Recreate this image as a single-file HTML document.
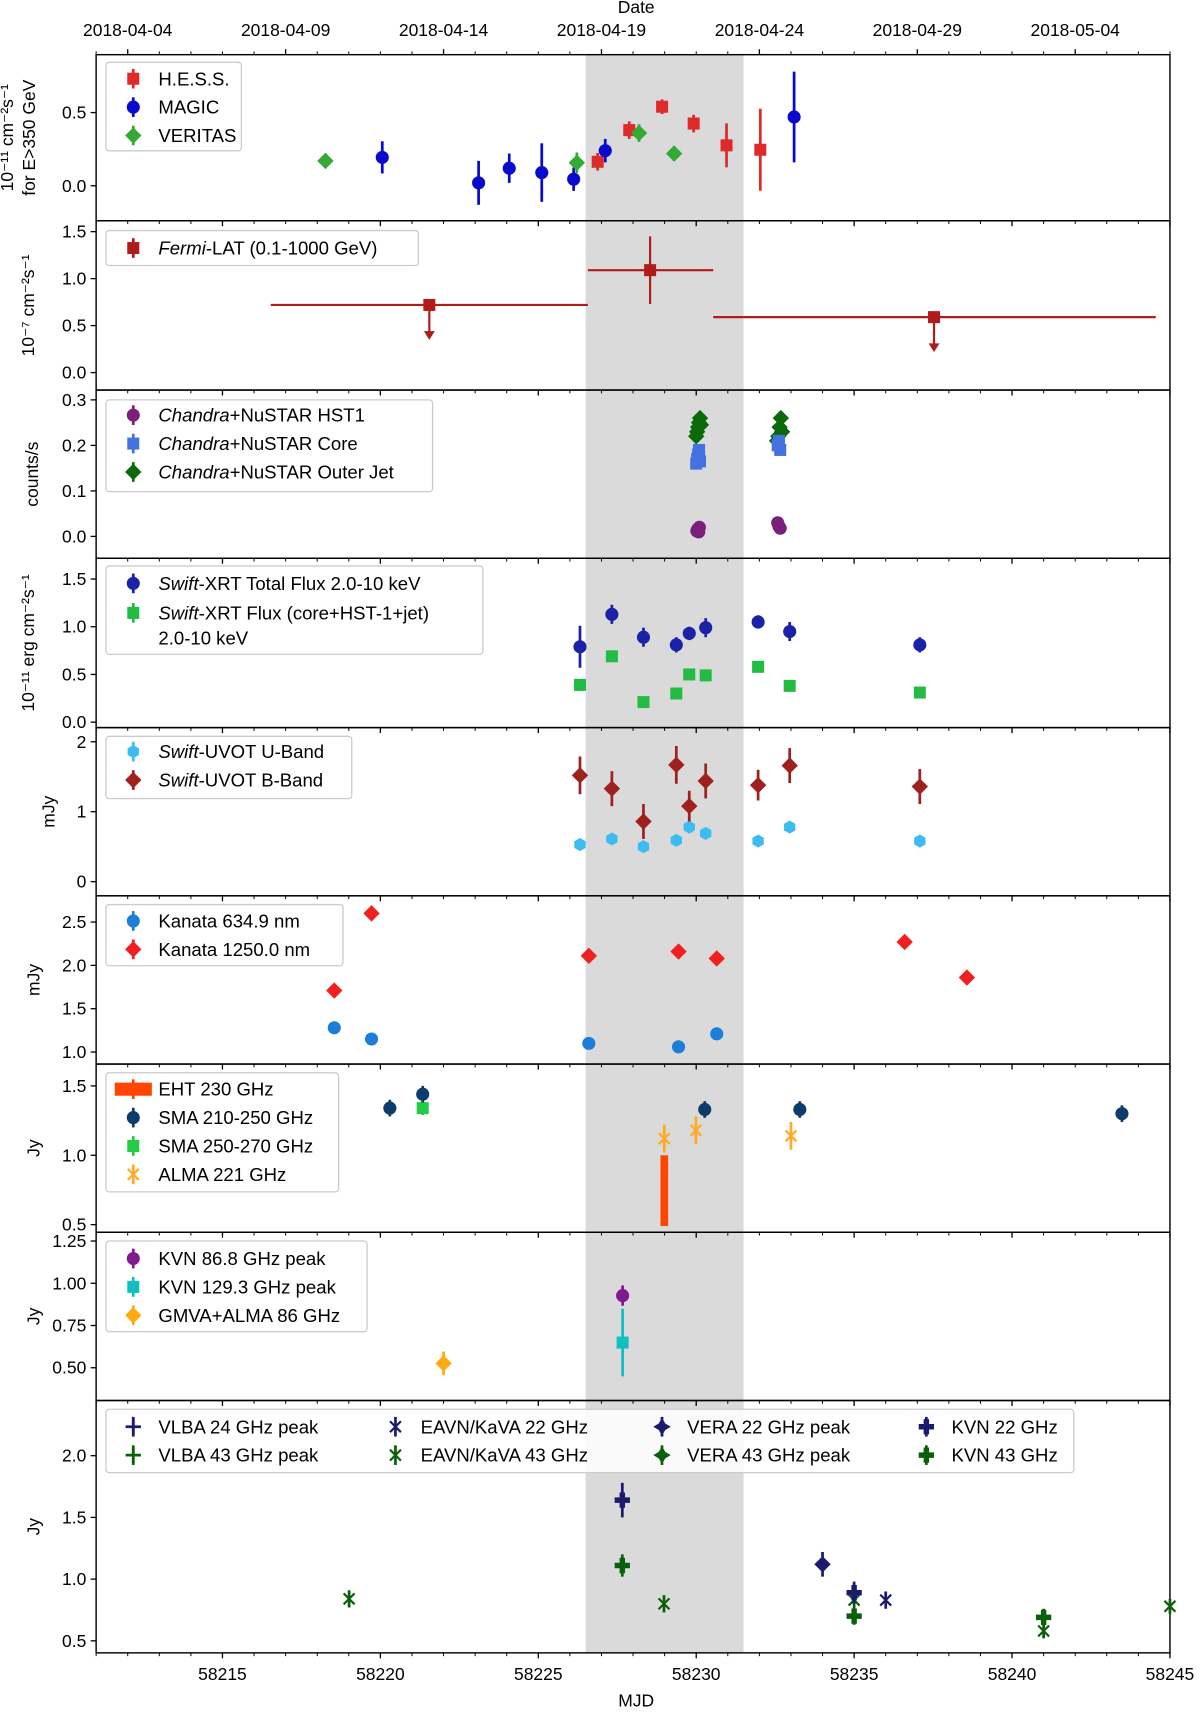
<!DOCTYPE html>
<html><head><meta charset="utf-8"><title>Multi-wavelength light curves</title>
<style>
html,body{margin:0;padding:0;background:#fff;}
svg{display:block;font-family:"Liberation Sans","DejaVu Sans",sans-serif;}
</style></head>
<body>
<svg id="fig" xmlns="http://www.w3.org/2000/svg" width="1200" height="1713" viewBox="0 0 1098.5 1568"></svg>
<script>
// ---------- data ----------
const hessX=[58226.88,58227.88,58228.92,58229.92,58230.96,58232.03];
const hessY=[0.164,0.38,0.54,0.425,0.276,0.246];
const hessE=[0.06,0.06,0.05,0.06,0.15,0.28];
const magicX=[58220.06,58223.11,58224.08,58225.11,58226.12,58227.12,58233.1];
const magicY=[0.194,0.02,0.12,0.09,0.045,0.24,0.47];
const magicE=[0.11,0.15,0.1,0.2,0.08,0.08,0.31];
const veritasX=[58218.26,58226.22,58228.19,58229.3];
const veritasY=[0.17,0.157,0.36,0.22];
const veritasE=[0.05,0.07,0.06,0.05];
const fermiX=[58221.55,58228.54,58237.53];
const fermiY=[0.72,1.09,0.59];
const fermiE=[0,0.36,0];
const fermiXlo=[58216.53,58226.57,58230.54];
const fermiXhi=[58226.57,58230.54,58244.55];
const fermiUL=[true,false,true];
const hst1X=[58230.02,58230.05,58230.08,58230.1,58232.58,58232.62,58232.66];
const hst1Y=[0.012,0.016,0.01,0.02,0.03,0.022,0.018];
const coreX=[58230.0,58230.03,58230.06,58230.09,58230.12,58232.58,58232.62,58232.66];
const coreY=[0.16,0.17,0.18,0.19,0.165,0.2,0.21,0.19];
const jetX=[58230.0,58230.03,58230.06,58230.09,58230.12,58230.15,58232.56,58232.6,58232.64,58232.68,58232.72];
const jetY=[0.22,0.23,0.24,0.25,0.26,0.245,0.21,0.22,0.24,0.26,0.23];
const swiftX=[58226.32,58227.33,58228.33,58229.37,58229.78,58230.3,58231.96,58232.96,58237.08];
const xrtTot=[0.79,1.13,0.89,0.81,0.93,0.99,1.05,0.95,0.81];
const xrtTotE=[0.22,0.1,0.1,0.08,0.07,0.1,0.07,0.1,0.08];
const xrtCore=[0.39,0.69,0.21,0.30,0.50,0.49,0.58,0.38,0.31];
const xrtCoreE=[0.06,0.04,0.04,0.04,0.04,0.04,0.04,0.04,0.04];
const uvotU=[0.53,0.61,0.5,0.59,0.78,0.69,0.58,0.78,0.58];
const uvotUE=[0.06,0.06,0.06,0.06,0.06,0.06,0.06,0.06,0.06];
const uvotB=[1.52,1.33,0.86,1.67,1.08,1.44,1.38,1.66,1.36];
const uvotBE=[0.27,0.25,0.25,0.27,0.22,0.25,0.22,0.25,0.25];
const kanataX=[58218.54,58219.72,58226.6,58229.44,58230.65];
const kanataR=[1.28,1.15,1.10,1.06,1.21];
const kanataIRX=[58218.54,58219.72,58226.6,58229.44,58230.65,58236.6,58238.57];
const kanataIR=[1.71,2.60,2.11,2.16,2.08,2.27,1.86];
const ehtX=[58228.99];
const ehtLo=[0.49];
const ehtHi=[1.0];
const sma1X=[58220.3,58221.34,58230.27,58233.28,58243.48];
const sma1Y=[1.34,1.44,1.33,1.33,1.30];
const sma1E=[0.06,0.06,0.06,0.06,0.06];
const sma2X=[58221.34];
const sma2Y=[1.34];
const sma2E=[0.05];
const almaX=[58228.99,58229.99,58233.0];
const almaY=[1.12,1.18,1.14];
const almaE=[0.1,0.1,0.1];
const kvn86X=[58227.67];const kvn86Y=[0.927];const kvn86E=[0.06];
const kvn129X=[58227.67];const kvn129Y=[0.649];const kvn129E=[0.2];
const gmvaX=[58222.0];const gmvaY=[0.526];const gmvaE=[0.07];
const vlba24X=[58227.66];const vlba24Y=[1.64];const vlba24E=[0.14];
const vlba43X=[58227.66];const vlba43Y=[1.11];const vlba43E=[0.09];
const eavn22X=[58236.0];const eavn22Y=[0.83];const eavn22E=[0.07];
const eavn43X=[58219.01,58228.98,58235.0,58241.0,58245.0];
const eavn43Y=[0.84,0.80,0.83,0.58,0.78];
const eavn43E=[0.07,0.07,0.07,0.06,0.06];
const vera22X=[58234.0];const vera22Y=[1.12];const vera22E=[0.1];
const kvn22X=[58235.0];const kvn22Y=[0.89];const kvn22E=[0.09];
const kvn43X=[58235.0,58241.0];const kvn43Y=[0.70,0.69];const kvn43E=[0.07,0.07];
const xTickVals=[58215,58220,58225,58230,58235,58240,58245];
const dateTickVals=[58212,58217,58222,58227,58232,58237,58242];
const dateTickLabels=['2018-04-04','2018-04-09','2018-04-14','2018-04-19','2018-04-24','2018-04-29','2018-05-04'];
const shadeRange=[58226.5,58231.5];

// ---------- layout ----------
const NS='http://www.w3.org/2000/svg';
const svg=document.getElementById('fig');
const L=88,R=1071,X0=58211,X1=58245;
function X(m){return L+(m-X0)*(R-L)/(X1-X0);}
const panels=[
 {top:50,bot:202,v0:0,p0:170,v1:0.5,p1:103,ticks:[0,0.5],fmt:1,lab:['10⁻¹¹ cm⁻²s⁻¹','for E>350 GeV'],lx:[12,32]},
 {top:202,bot:357,v0:0,p0:341,v1:1.5,p1:212,ticks:[0,0.5,1,1.5],fmt:1,lab:['10⁻⁷ cm⁻²s⁻¹'],lx:[31]},
 {top:357,bot:511,v0:0,p0:491,v1:0.3,p1:366,ticks:[0,0.1,0.2,0.3],fmt:1,lab:['counts/s'],lx:[35]},
 {top:511,bot:666,v0:0,p0:661,v1:1.5,p1:530,ticks:[0,0.5,1,1.5],fmt:1,lab:['10⁻¹¹ erg cm⁻²s⁻¹'],lx:[31]},
 {top:666,bot:820,v0:0,p0:807,v1:2,p1:679,ticks:[0,1,2],fmt:0,lab:['mJy'],lx:[50]},
 {top:820,bot:974,v0:1,p0:963,v1:2.5,p1:844,ticks:[1,1.5,2,2.5],fmt:1,lab:['mJy'],lx:[36]},
 {top:974,bot:1128,v0:0.5,p0:1121,v1:1.5,p1:994,ticks:[0.5,1,1.5],fmt:1,lab:['Jy'],lx:[36]},
 {top:1128,bot:1282,v0:0.5,p0:1252,v1:1.25,p1:1136,ticks:[0.5,0.75,1,1.25],fmt:2,lab:['Jy'],lx:[36]},
 {top:1282,bot:1513,v0:0.5,p0:1502,v1:1.0,p1:1445.5,ticks:[0.5,1,1.5,2],fmt:1,lab:['Jy'],lx:[36]}
];
function Y(p,v){return p.p0+(v-p.v0)*(p.p1-p.p0)/(p.v1-p.v0);}
function el(tag,attrs,parent){const e=document.createElementNS(NS,tag);for(const k in attrs)e.setAttribute(k,attrs[k]);(parent||svg).appendChild(e);return e;}

function marker(g,type,cx,cy,color){
 let e;
 if(type==='o'){e=el('circle',{cx:cx,cy:cy,r:6,fill:color},g);}
 else if(type==='h'){e=el('polygon',{points:[0,1,2,3,4,5].map(i=>{const a=Math.PI/3*i+Math.PI/6;return (cx+6*Math.cos(a))+','+(cy+6*Math.sin(a));}).join(' '),fill:color},g);}
 else if(type==='s'){e=el('rect',{x:cx-5.5,y:cy-5.5,width:11,height:11,fill:color},g);}
 else if(type==='D'){e=el('polygon',{points:`${cx},${cy-7.5} ${cx+7.5},${cy} ${cx},${cy+7.5} ${cx-7.5},${cy}`,fill:color},g);}
 else if(type==='d'){e=el('polygon',{points:`${cx},${cy-8} ${cx+3},${cy-3} ${cx+8},${cy} ${cx+3},${cy+3} ${cx},${cy+8} ${cx-3},${cy+3} ${cx-8},${cy} ${cx-3},${cy-3}`,fill:color},g);}
 else if(type==='P'){e=el('path',{d:`M${cx-2.5},${cy-7}h5v4.5h4.5v5h-4.5v4.5h-5v-4.5h-4.5v-5h4.5z`,fill:color},g);}
 else if(type==='+'){e=el('path',{d:`M${cx-7},${cy}H${cx+7}M${cx},${cy-7}V${cy+7}`,stroke:color,'stroke-width':2.5,fill:'none'},g);}
 else if(type==='x'){e=el('path',{d:`M${cx-5},${cy-5}L${cx+5},${cy+5}M${cx+5},${cy-5}L${cx-5},${cy+5}`,stroke:color,'stroke-width':2,fill:'none'},g);}
 return e;
}
function series(pi,name,xs,ys,es,type,color){
 const p=panels[pi];
 const g=el('g',{});
 
 
 xs.forEach((m,i)=>{
  const cx=X(m),cy=Y(p,ys[i]);
  if(es&&es[i]>0){
   const ln=el('line',{x1:cx,x2:cx,y1:Y(p,ys[i]-es[i]),y2:Y(p,ys[i]+es[i]),stroke:color,'stroke-width':2.5},g);
   
   
  }
  const mk=marker(g,type,cx,cy,color);
  
  
 });
}

// shading
panels.forEach((p,i)=>{
 const r=el('rect',{x:X(shadeRange[0]),y:p.top,width:X(shadeRange[1])-X(shadeRange[0]),height:p.bot-p.top,fill:'#dadada'});
 
 
});

// axes frames, ticks, labels
panels.forEach((p,i)=>{
 const g=el('g',{});
 
 
 for(let m=X0;m<=X1;m++){
  const x=X(m),maj=(m%5===0);
  el('line',{x1:x,x2:x,y1:p.bot,y2:p.bot+(maj?5:3),stroke:'#000','stroke-width':maj?1.2:0.9},g);
 }
 p.ticks.forEach(v=>{
  const y=Y(p,v);
  el('line',{x1:L-5,x2:L,y1:y,y2:y,stroke:'#000','stroke-width':1.2},g);
  const t=el('text',{x:L-9,y:y+5.5,'text-anchor':'end','font-size':16},g);
  t.textContent=v.toFixed(p.fmt);
  
  
 });
 const fr=el('rect',{x:L,y:p.top,width:R-L,height:p.bot-p.top,fill:'none',stroke:'#000','stroke-width':1.3},g);
 
 
 const cy=(p.top+p.bot)/2;
 p.lab.forEach((s,k)=>{
  const xx=p.lx[k];
  const t=el('text',{x:xx,y:cy,'text-anchor':'middle','font-size':16,transform:`rotate(-90 ${xx} ${cy})`},g);
  t.textContent=s;
  
  
 });
});
// bottom x labels
xTickVals.forEach(v=>{
 const t=el('text',{x:X(v),y:1538,'text-anchor':'middle','font-size':16});
 t.textContent=String(v);
 
 
});
{const t=el('text',{x:X(58228.1),y:1562,'text-anchor':'middle','font-size':16});t.textContent='MJD';

}
// top date axis
for(let m=X0;m<=X1;m++){
 const maj=((m-58212)%5===0);
 el('line',{x1:X(m),x2:X(m),y1:50,y2:50-(maj?5:3),stroke:'#000','stroke-width':maj?1.2:0.9});
}
dateTickVals.forEach((v,i)=>{
 const t=el('text',{x:X(v),y:33,'text-anchor':'middle','font-size':16});
 t.textContent=dateTickLabels[i];
 
 
});
{const t=el('text',{x:X(58228.1),y:12,'text-anchor':'middle','font-size':16});t.textContent='Date';

}

// ---------- series ----------
series(0,'hess',hessX,hessY,hessE,'s','#e02a2a');
series(0,'magic',magicX,magicY,magicE,'o','#0a0acc');
series(0,'veritas',veritasX,veritasY,veritasE,'D','#33aa33');
// fermi
{const p=panels[1];const g=el('g',{});


const c='#b01c1c';
fermiX.forEach((m,i)=>{
 const cx=X(m),cy=Y(p,fermiY[i]);
 el('line',{x1:X(fermiXlo[i]),x2:X(fermiXhi[i]),y1:cy,y2:cy,stroke:c,'stroke-width':2},g);
 if(fermiE[i]>0)el('line',{x1:cx,x2:cx,y1:Y(p,fermiY[i]-fermiE[i]),y2:Y(p,fermiY[i]+fermiE[i]),stroke:c,'stroke-width':2},g);
 if(fermiUL[i]){
  el('line',{x1:cx,x2:cx,y1:cy,y2:cy+30,stroke:c,'stroke-width':2},g);
  el('polygon',{points:`${cx-5},${cy+24} ${cx+5},${cy+24} ${cx},${cy+32}`,fill:c},g);
 }
 const mk=marker(g,'s',cx,cy,c);
 
 
});}
series(2,'chandra-outer-jet',jetX,jetY,null,'D','#0a6a0a');
series(2,'chandra-core',coreX,coreY,null,'s','#4472e0');
series(2,'chandra-hst1',hst1X,hst1Y,null,'o','#7a1f7a');
series(3,'xrt-total',swiftX,xrtTot,xrtTotE,'o','#1a22a8');
series(3,'xrt-core-hst1-jet',swiftX,xrtCore,xrtCoreE,'s','#22bb44');
series(4,'uvot-u',swiftX,uvotU,uvotUE,'h','#3cbcf0');
series(4,'uvot-b',swiftX,uvotB,uvotBE,'D','#a02020');
series(5,'kanata-634nm',kanataX,kanataR,null,'o','#1c7ed6');
series(5,'kanata-1250nm',kanataIRX,kanataIR,null,'D','#f02020');
// EHT bar
{const p=panels[6];ehtX.forEach((m,i)=>{
 const r=el('rect',{x:X(m)-3.5,y:Y(p,ehtHi[i]),width:7,height:Y(p,ehtLo[i])-Y(p,ehtHi[i]),fill:'#ff4500'});
 
 
});}
series(6,'sma-250-270',sma2X,sma2Y,sma2E,'s','#22cc44');
series(6,'sma-210-250',sma1X,sma1Y,sma1E,'o','#0d3b6b');
series(6,'alma-221',almaX,almaY,almaE,'x','#ffaa22');
series(7,'kvn-129ghz',kvn129X,kvn129Y,kvn129E,'s','#10bfbf');
series(7,'kvn-86ghz',kvn86X,kvn86Y,kvn86E,'o','#7f1a8f');
series(7,'gmva-alma-86',gmvaX,gmvaY,gmvaE,'D','#ffaa11');
series(8,'vlba-24ghz',vlba24X,vlba24Y,vlba24E,'P','#1b1b6e');
series(8,'vlba-43ghz',vlba43X,vlba43Y,vlba43E,'P','#0a600a');
series(8,'eavn-22ghz',eavn22X,eavn22Y,eavn22E,'x','#1b1b6e');
series(8,'eavn-43ghz',eavn43X,eavn43Y,eavn43E,'x','#0a600a');
series(8,'vera-22ghz',vera22X,vera22Y,vera22E,'D','#1b1b6e');
series(8,'kvn-22ghz',kvn22X,kvn22Y,kvn22E,'P','#1b1b6e');
series(8,'kvn-43ghz',kvn43X,kvn43Y,kvn43E,'P','#0a600a');

// ---------- legends ----------
function legend(name,x,y,w,h,entries){
 const g=el('g',{});
 
 
 el('rect',{x:x,y:y,width:w,height:h,rx:3,fill:'#fff','fill-opacity':0.85,stroke:'#cccccc','stroke-width':1.2},g);
 entries.forEach(en=>{
  const [mx,my,type,color,parts]=en;
  el('line',{x1:mx,x2:mx,y1:my-9,y2:my+9,stroke:color,'stroke-width':2.5},g);
  if(type==='bar'){el('rect',{x:mx-17,y:my-6,width:34,height:12,fill:color},g);}
  else marker(g,type,mx,my,color);
  parts.forEach((lines,li)=>{
   const t=el('text',{x:mx+23,y:my+6+li*23,'font-size':17},g);
   
   
   lines.forEach(seg=>{const s=el('tspan',seg[1]?{'font-style':'italic'}:{},t);s.textContent=seg[0];});
  });
 });
}
legend('legend-vhe',97,57,124,81,[
 [122,72,'s','#e02a2a',[[['H.E.S.S.',0]]]],
 [122,98,'o','#0a0acc',[[['MAGIC',0]]]],
 [122,124,'D','#33aa33',[[['VERITAS',0]]]]]);
legend('legend-fermi',97,211,286,32,[
 [122,227,'s','#b01c1c',[[['Fermi',1],['-LAT (0.1-1000 GeV)',0]]]]]);
legend('legend-chandra',97,366,299,84,[
 [122,380,'o','#7a1f7a',[[['Chandra',1],['+NuSTAR HST1',0]]]],
 [122,406,'s','#4472e0',[[['Chandra',1],['+NuSTAR Core',0]]]],
 [122,432,'D','#0a6a0a',[[['Chandra',1],['+NuSTAR Outer Jet',0]]]]]);
legend('legend-xrt',97,518,345,81,[
 [122,534,'o','#1a22a8',[[['Swift',1],['-XRT Total Flux 2.0-10 keV',0]]]],
 [122,561,'s','#22bb44',[[['Swift',1],['-XRT Flux (core+HST-1+jet)',0]],[['2.0-10 keV',0]]]]]);
legend('legend-uvot',97,674,225,57,[
 [122,688,'h','#3cbcf0',[[['Swift',1],['-UVOT U-Band',0]]]],
 [122,714,'D','#a02020',[[['Swift',1],['-UVOT B-Band',0]]]]]);
legend('legend-kanata',97,828,217,56,[
 [122,843,'o','#1c7ed6',[[['Kanata 634.9 nm',0]]]],
 [122,869,'D','#f02020',[[['Kanata 1250.0 nm',0]]]]]);
legend('legend-mm',97,982,213,109,[
 [122,997,'bar','#ff4500',[[['EHT 230 GHz',0]]]],
 [122,1023,'o','#0d3b6b',[[['SMA 210-250 GHz',0]]]],
 [122,1049,'s','#22cc44',[[['SMA 250-270 GHz',0]]]],
 [122,1075,'x','#ffaa22',[[['ALMA 221 GHz',0]]]]]);
legend('legend-kvn-gmva',97,1136,239,83,[
 [122,1152,'o','#7f1a8f',[[['KVN 86.8 GHz peak',0]]]],
 [122,1178,'s','#10bfbf',[[['KVN 129.3 GHz peak',0]]]],
 [122,1204,'D','#ffaa11',[[['GMVA+ALMA 86 GHz',0]]]]]);
legend('legend-vlbi',97,1290,886,58,[
 [122,1306,'+','#1b1b6e',[[['VLBA 24 GHz peak',0]]]],
 [122,1332,'+','#0a600a',[[['VLBA 43 GHz peak',0]]]],
 [362,1306,'x','#1b1b6e',[[['EAVN/KaVA 22 GHz',0]]]],
 [362,1332,'x','#0a600a',[[['EAVN/KaVA 43 GHz',0]]]],
 [606,1306,'d','#1b1b6e',[[['VERA 22 GHz peak',0]]]],
 [606,1332,'d','#0a600a',[[['VERA 43 GHz peak',0]]]],
 [848,1306,'P','#1b1b6e',[[['KVN 22 GHz',0]]]],
 [848,1332,'P','#0a600a',[[['KVN 43 GHz',0]]]]]);
</script>
</body></html>
